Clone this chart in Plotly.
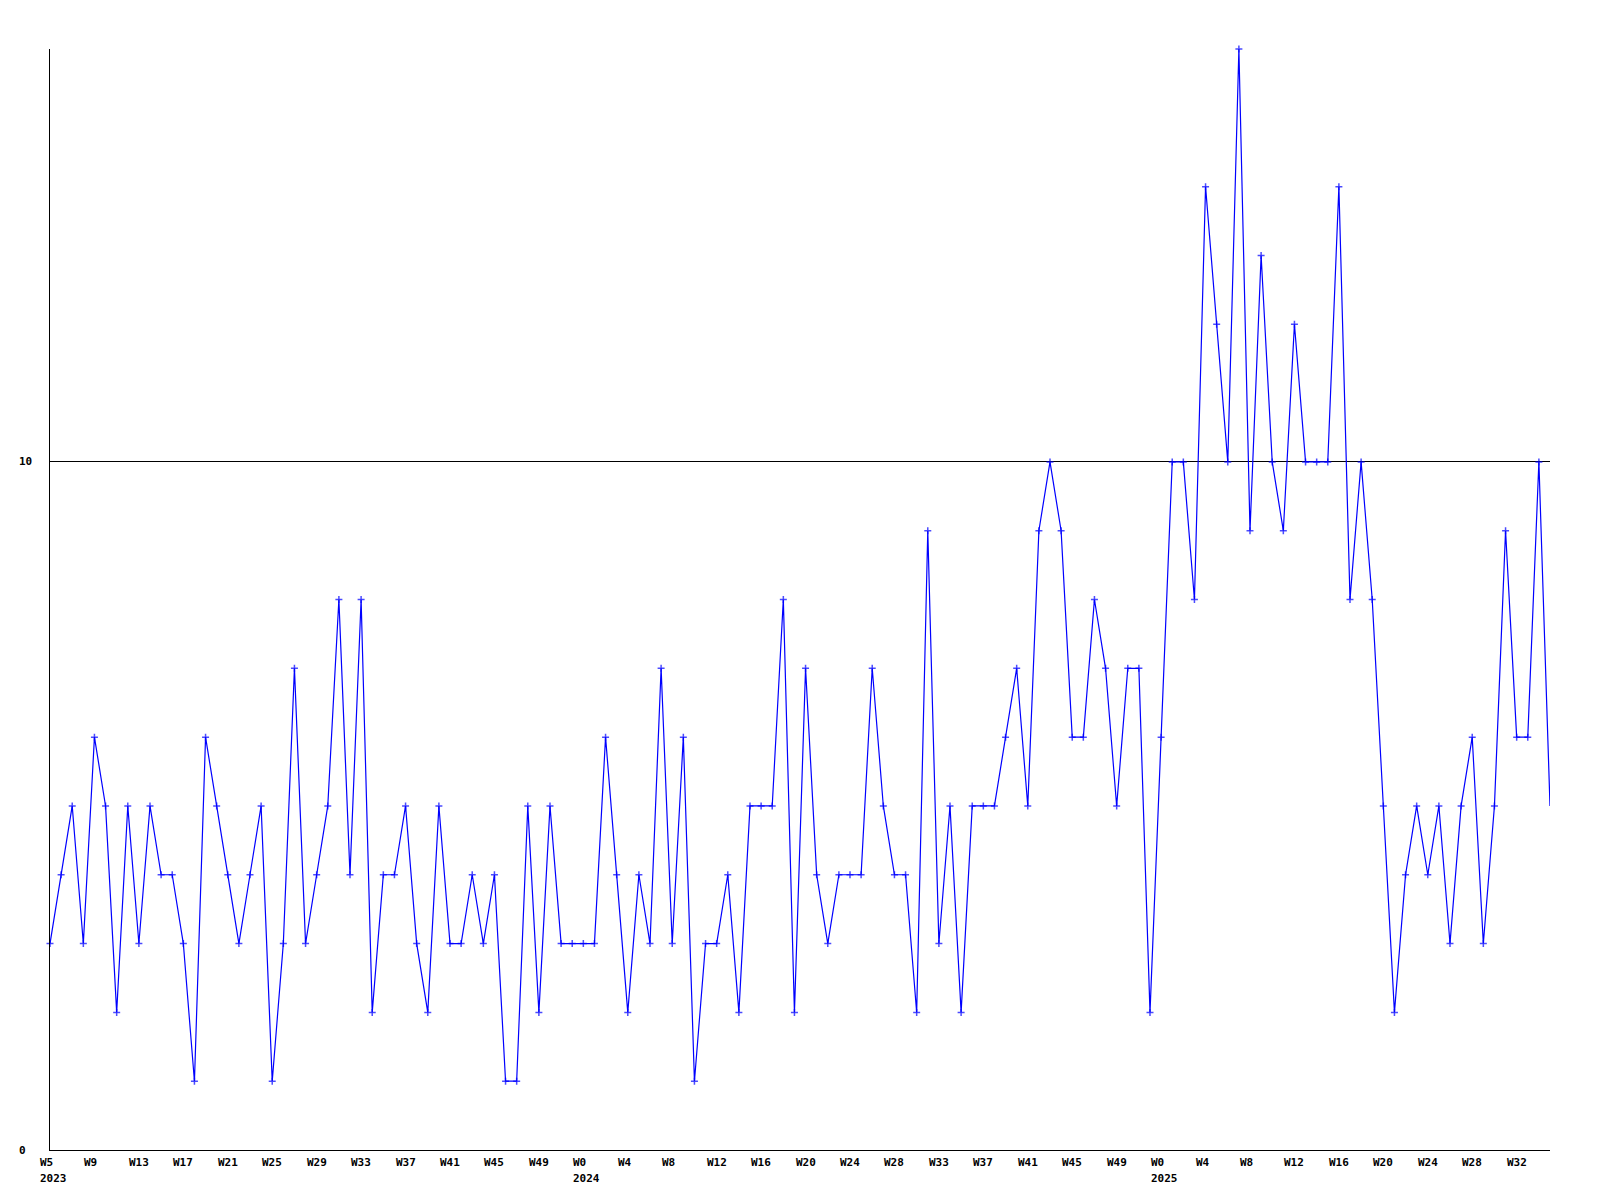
import plotly.graph_objects as go

# Weekly values, W5 2023 .. W33 2025
values = [3, 4, 5, 3, 6, 5, 2, 5, 3, 5,
          4, 4, 3, 1, 6, 5, 4, 3, 4, 5,
          1, 3, 7, 3, 4, 5, 8, 4, 8, 2,
          4, 4, 5, 3, 2, 5, 3, 3, 4, 3,
          4, 1, 1, 5, 2, 5, 3, 3, 3, 3,
          6, 4, 2, 4, 3, 7, 3, 6, 1, 3,
          3, 4, 2, 5, 5, 5, 8, 2, 7, 4,
          3, 4, 4, 4, 7, 5, 4, 4, 2, 9,
          3, 5, 2, 5, 5, 5, 6, 7, 5, 9,
          10, 9, 6, 6, 8, 7, 5, 7, 7, 2,
          6, 10, 10, 8, 14, 12, 10, 16, 9, 13,
          10, 9, 12, 10, 10, 10, 14, 8, 10, 8,
          5, 2, 4, 5, 4, 5, 3, 5, 6, 3,
          5, 9, 6, 6, 10, 5]

week_labels = ["W5", "W9", "W13", "W17", "W21", "W25", "W29", "W33", "W37",
               "W41", "W45", "W49", "W0", "W4", "W8", "W12", "W16", "W20",
               "W24", "W28", "W33", "W37", "W41", "W45", "W49", "W0", "W4",
               "W8", "W12", "W16", "W20", "W24", "W28", "W32"]
year_labels = ["2023", "2024", "2025"]
y_tick_values = [0, 10]
label_step = 4

x = list(range(len(values)))
sizes = [5] * (len(values) - 1) + [0]

FONT = "DejaVu Sans Mono"
BLUE = "#0000ff"

fig = go.Figure()
fig.add_trace(go.Scatter(
    x=x, y=values, mode="lines+markers",
    line=dict(color=BLUE, width=1.2),
    marker=dict(symbol="cross-thin", size=sizes, color=BLUE,
                line=dict(color=BLUE, width=1.5)),
    cliponaxis=False, showlegend=False, hoverinfo="skip",
))

annotations = []
year_iter = iter(year_labels)
for k, lab in enumerate(week_labels):
    pos = k * label_step
    annotations.append(dict(
        x=pos, y=0, xref="x", yref="y", text=lab, showarrow=False,
        xanchor="left", yanchor="top", xshift=-12, yshift=-4,
        font=dict(family=FONT, size=11, color="black", weight="bold")))
    if k == 0 or lab == "W0":
        yr = next(year_iter, None)
        if yr:
            annotations.append(dict(
                x=pos, y=0, xref="x", yref="y", text=yr, showarrow=False,
                xanchor="left", yanchor="top", xshift=-12, yshift=-20,
                font=dict(family=FONT, size=11, color="black", weight="bold")))

for v in y_tick_values:
    annotations.append(dict(
        x=0, y=v, xref="paper", yref="y", text=str(v), showarrow=False,
        xanchor="left", yanchor="middle", xshift=-33,
        font=dict(family=FONT, size=11, color="black", weight="bold")))

fig.update_layout(
    width=1584, height=1184,
    margin=dict(l=42, r=42, t=41, b=42),
    paper_bgcolor="white", plot_bgcolor="white",
    xaxis=dict(range=[0, len(values) - 1], showline=True, linecolor="black",
               linewidth=1, showgrid=False, zeroline=False,
               showticklabels=False, ticks=""),
    yaxis=dict(range=[0, 16], showline=True, linecolor="black", linewidth=1,
               showgrid=True, gridcolor="black", gridwidth=1,
               tickvals=[10], zeroline=False, showticklabels=False, ticks=""),
    annotations=annotations,
)

fig.write_html("out.html")
